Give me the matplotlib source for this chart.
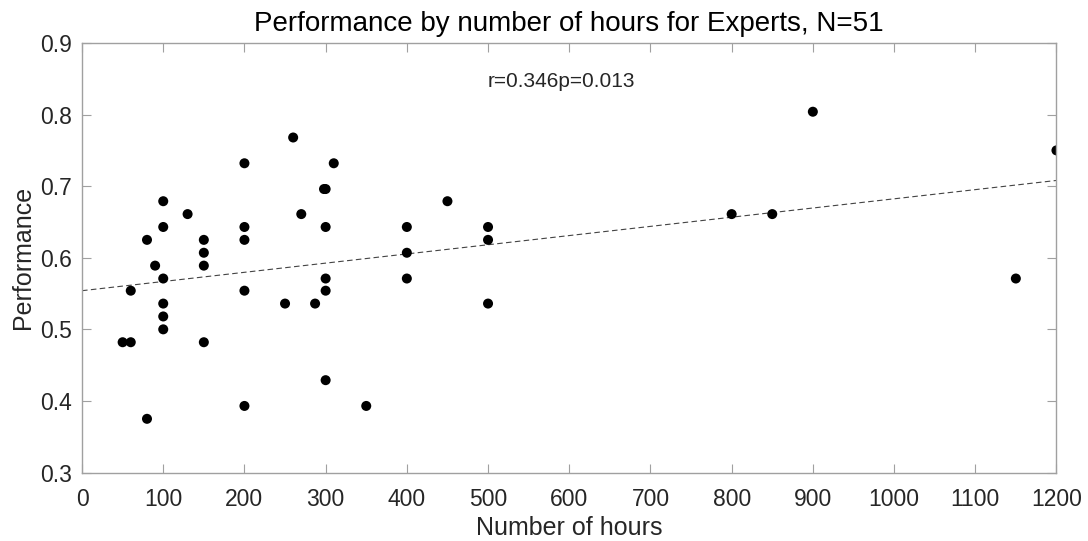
import matplotlib.pyplot as plt

plt.rcParams['font.family'] = ['Liberation Sans', 'DejaVu Sans']

# Dati
hours = [50, 60, 60, 80, 80, 90, 100, 100, 100, 100, 100, 100, 130,
         150, 150, 150, 150, 200, 200, 200, 200, 200, 250, 260, 270, 287,
         298, 300, 300, 300, 300, 300, 310, 350, 400, 400, 400, 450,
         500, 500, 500, 800, 850, 900, 1150, 1200]
performance = [0.482, 0.482, 0.554, 0.625, 0.375, 0.589, 0.679, 0.643, 0.571, 0.536, 0.518, 0.500, 0.661,
               0.625, 0.607, 0.589, 0.482, 0.732, 0.643, 0.625, 0.554, 0.393, 0.536, 0.768, 0.661, 0.536,
               0.696, 0.696, 0.643, 0.571, 0.554, 0.429, 0.732, 0.393, 0.643, 0.607, 0.571, 0.679,
               0.643, 0.625, 0.536, 0.661, 0.661, 0.804, 0.571, 0.750]

# Retta di regressione (estremi)
fit_x = [0, 1200]
fit_y = [0.554, 0.708]

stat_text = "r=0.346p=0.013"
titolo = "Performance by number of hours for Experts, N=51"

fig = plt.figure(figsize=(10.88, 5.41), dpi=100)
ax = fig.add_axes([0.0754, 0.1266, 0.8956, 0.7939])

ax.plot(fit_x, fit_y, linestyle=(0, (5, 3)), color="#444444", linewidth=0.8, zorder=1)
ax.scatter(hours, performance, s=52, color="black", edgecolors="none", zorder=2)

ax.text(500, 0.846, stat_text, fontsize=15, ha="left", va="center", color="#262626")

ax.set_xlim(0, 1200)
ax.set_ylim(0.3, 0.9)
ax.set_xticks(range(0, 1201, 100))
ax.set_yticks([0.3, 0.4, 0.5, 0.6, 0.7, 0.8, 0.9])
ax.set_yticklabels(["0.3", "0.4", "0.5", "0.6", "0.7", "0.8", "0.9"])

for s in ax.spines.values():
    s.set_color("#a0a0a0")
    s.set_linewidth(1.0)
ax.tick_params(direction="in", length=6.5, width=0.8, color="#a0a0a0",
               top=True, right=True, labelsize=16.5, labelcolor="#262626")
ax.tick_params(axis="x", pad=11)
ax.tick_params(axis="y", pad=7)

ax.set_xlabel("Number of hours", fontsize=18, color="#262626", labelpad=4)
ax.set_ylabel("Performance", fontsize=18, color="#262626", labelpad=4)
ax.set_title(titolo, fontsize=20, color="black", pad=9)

fig.savefig("out.png", dpi=100)
